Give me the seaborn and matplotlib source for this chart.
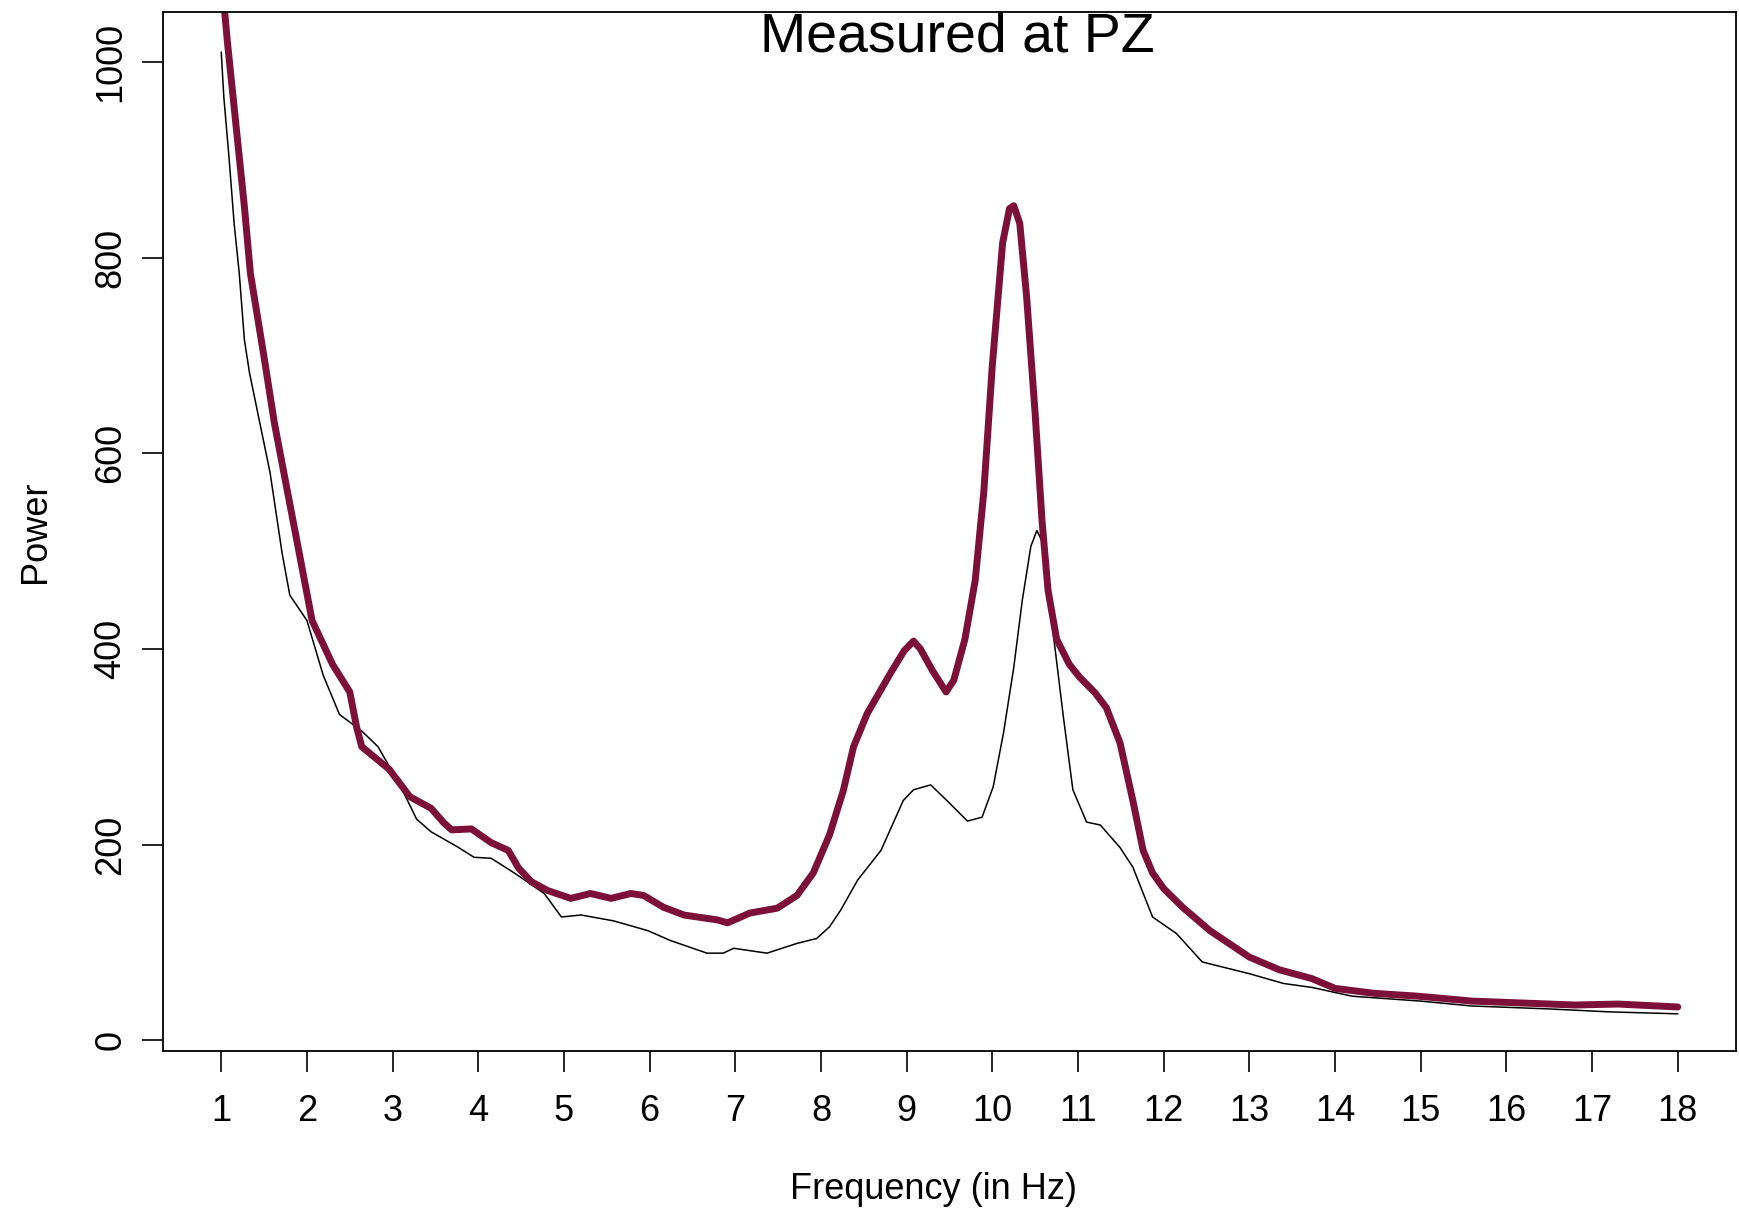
import numpy as np
import pandas as pd
import matplotlib
matplotlib.use("Agg")
import matplotlib.pyplot as plt
import seaborn as sns

sns.set_style("white")
plt.rcParams['font.family'] = ['Liberation Sans', 'DejaVu Sans']
plt.rcParams['text.color'] = 'black'
plt.rcParams['axes.labelcolor'] = 'black'
plt.rcParams['xtick.color'] = 'black'
plt.rcParams['ytick.color'] = 'black'

# red (thick) spectrum
red_freq = [1.0, 1.07, 1.15, 1.27, 1.34, 1.5, 1.62, 1.77, 1.91, 2.06, 2.3, 2.5, 2.58, 2.64,
            2.96, 3.2, 3.45, 3.6, 3.69, 3.92, 4.15, 4.35, 4.47, 4.62, 4.81, 5.08, 5.31,
            5.55, 5.78, 5.93, 6.16, 6.4, 6.79, 6.91, 7.17, 7.49, 7.72, 7.91, 8.1, 8.26,
            8.38, 8.54, 8.81, 8.97, 9.08, 9.16, 9.3, 9.46, 9.55, 9.68, 9.8, 9.9, 10.0,
            10.12, 10.2, 10.25, 10.32, 10.4, 10.5, 10.58, 10.65, 10.75, 10.9, 11.02,
            11.2, 11.33, 11.49, 11.64, 11.76, 11.87, 12.0, 12.22,
            12.54, 13.0, 13.35, 13.73, 14.0, 14.45, 14.97, 15.6, 16.2, 16.8, 17.3, 18.0]
red_power = [1090, 1022, 954, 852, 784, 698, 631, 562, 498, 429, 384, 356, 320, 300,
             277, 249, 237, 222, 215, 216, 202, 194, 176, 162, 153, 145, 150,
             145, 150, 148, 136, 128, 123, 120, 130, 135, 148, 171, 210, 255,
             300, 334, 375, 398, 408, 400, 378, 356, 368, 410, 470, 560, 690,
             815, 850, 853, 835, 760, 640, 531, 460, 410, 384, 371, 355, 340, 304,
             245, 194, 171, 155, 136,
             112, 85, 72, 63, 53, 48, 45, 40, 38, 36, 37, 34]

# black (thin) spectrum
blk_freq = [1.0, 1.03, 1.09, 1.15, 1.21, 1.27, 1.33, 1.45, 1.57, 1.71, 1.8, 2.0, 2.19,
            2.38, 2.64, 2.83, 3.09, 3.28, 3.45, 3.77, 3.95, 4.15, 4.42, 4.77, 4.97,
            5.2, 5.58, 5.98, 6.24, 6.67, 6.86, 6.98, 7.37, 7.72, 7.95, 8.1, 8.23, 8.43,
            8.7, 8.96, 9.08, 9.28, 9.47, 9.71, 9.88, 10.01, 10.13, 10.25, 10.35, 10.45,
            10.52, 10.58, 10.65, 10.71, 10.83, 10.94, 11.1, 11.26, 11.49, 11.64, 11.87,
            12.15, 12.45, 13.0, 13.4, 13.73, 14.2, 15.0, 15.6, 16.5, 17.2, 18.0]
blk_power = [1010, 964, 903, 835, 784, 716, 682, 631, 580, 498, 455, 429, 373,
             333, 316, 300, 260, 226, 213, 197, 187, 186, 171, 150, 126,
             128, 122, 112, 102, 89, 89, 94, 89, 99, 104, 116, 133, 164,
             194, 245, 256, 261, 245, 224, 228, 259, 314, 381, 450, 505,
             521, 510, 470, 416, 330, 256, 223, 220, 197, 177, 126,
             109, 80, 68, 58, 54, 45, 40, 35, 32, 29, 27]

x_ticks = list(range(1, 19))
y_ticks = [0, 200, 400, 600, 800, 1000]

fig = plt.figure(figsize=(17.39, 12.09), dpi=100)
ax = fig.add_axes([163 / 1739, 1 - 1051 / 1209, (1736 - 163) / 1739, (1051 - 12) / 1209])

sns.lineplot(x=blk_freq, y=blk_power, ax=ax, color="black", linewidth=1.1, sort=False)
sns.lineplot(x=red_freq, y=red_power, ax=ax, color="#7d1038", linewidth=5, sort=False)

ax.set_xlim(0.32, 18.68)
ax.set_ylim(-11, 1051)
ax.set_xticks(x_ticks)
ax.set_yticks(y_ticks)
ax.set_xticklabels([str(t) for t in x_ticks], fontsize=26)
ax.set_yticklabels([str(t) for t in y_ticks], fontsize=26, rotation=90, va="center")
ax.tick_params(axis="both", direction="out", length=15, width=1.2, color="black",
               labelcolor="black", bottom=True, left=True)
ax.tick_params(axis="x", pad=16)
ax.tick_params(axis="y", pad=10)

for sp in ax.spines.values():
    sp.set_visible(True)
    sp.set_color("black")
    sp.set_linewidth(1.3)

ax.set_xlabel("Frequency (in Hz)", fontsize=26, color="black")
ax.xaxis.set_label_coords(0.49, -0.116)
ax.set_ylabel("Power", fontsize=26, color="black")
ax.yaxis.set_label_coords(-0.07, 0.5)

ax.text(0.505, 0.962, "Measured at PZ", transform=ax.transAxes, ha="center",
        va="baseline", fontsize=40, color="black")

fig.savefig("out.png", dpi=100)
